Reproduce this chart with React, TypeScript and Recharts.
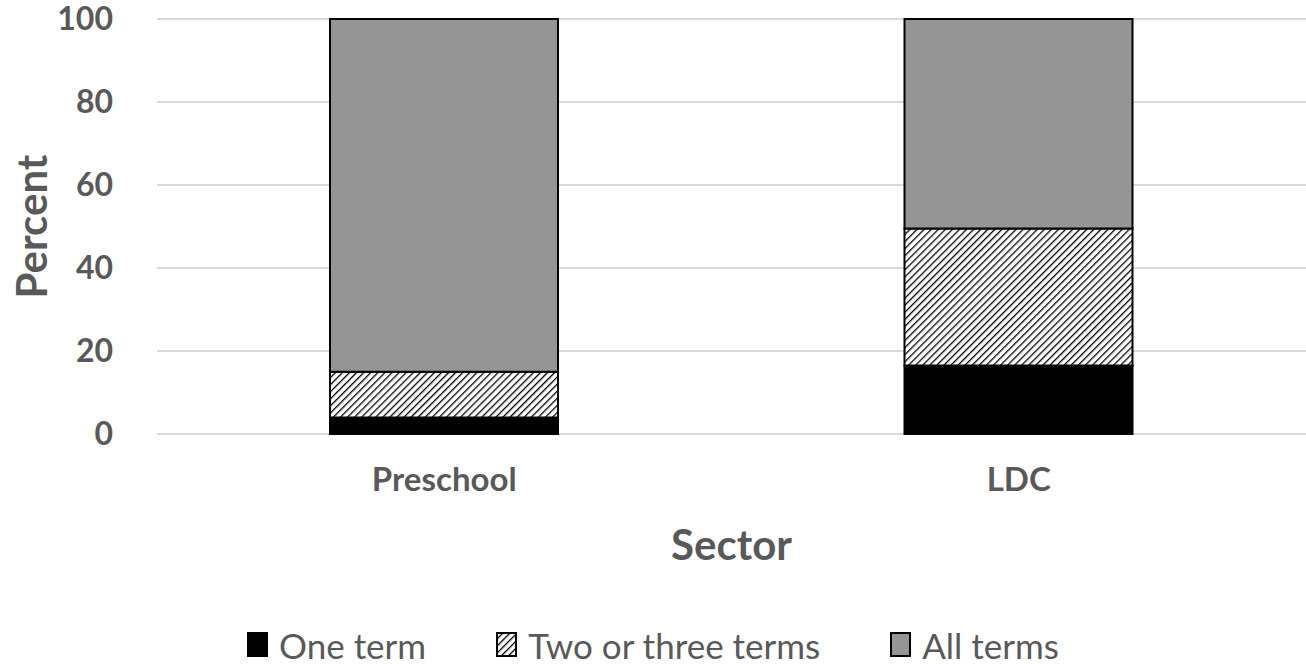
import React from "react";
import { BarChart, Bar, XAxis, YAxis, CartesianGrid, Legend } from "recharts";

const categories = ["Preschool", "LDC"];
const oneTerm = [4, 16.5];
const twoOrThreeTerms = [11, 33];
const allTerms = [85, 50.5];
const yTicks = [0, 20, 40, 60, 80, 100];

const seriesInfo = [
  { key: "one", name: "One term", fill: "#000000" },
  { key: "two", name: "Two or three terms", fill: "url(#hatch)" },
  { key: "all", name: "All terms", fill: "#959595" },
];

const data = categories.map((name, i) => ({
  name,
  one: oneTerm[i],
  two: twoOrThreeTerms[i],
  all: allTerms[i],
}));

const FONT = "Lato, 'Noto Sans', sans-serif";
const TEXT = "#595959";

function LegendContent() {
  return (
    <div
      style={{
        display: "flex",
        justifyContent: "center",
        alignItems: "center",
        fontFamily: FONT,
        fontSize: 35,
        color: TEXT,
        paddingTop: 50,
      }}
    >
      {seriesInfo.map((s, i) => (
        <div
          key={s.key}
          style={{ display: "flex", alignItems: "center", marginRight: i < 2 ? 70 : 0 }}
        >
          <svg width={22} height={26} style={{ marginRight: 10 }}>
            <rect x={1} y={1} width={19} height={23} fill={s.fill} stroke="#000" strokeWidth={2} />
          </svg>
          <span>{s.name}</span>
        </div>
      ))}
    </div>
  );
}

export default function App() {
  return (
    <div style={{ position: "absolute", left: 0, top: 0, width: 1306, height: 664, background: "#fff" }}>
      <svg width={0} height={0} style={{ position: "absolute" }}>
        <defs>
          <pattern id="hatch" patternUnits="userSpaceOnUse" width={5} height={5} patternTransform="rotate(45)">
            <rect width={5} height={5} fill="#fff" />
            <line x1={0} y1={0} x2={0} y2={5} stroke="#000" strokeWidth={2.6} />
          </pattern>
        </defs>
      </svg>
      <BarChart
        width={1306}
        height={664}
        data={data}
        margin={{ top: 19, right: 0, left: 0, bottom: 0 }}
        barSize={228}
      >
        <CartesianGrid vertical={false} stroke="#d9d9d9" strokeWidth={2} />
        <XAxis
          dataKey="name"
          axisLine={false}
          tickLine={false}
          height={140}
          tick={{ fill: TEXT, fontSize: 33, fontWeight: 700, fontFamily: FONT }}
          tickMargin={28}
          label={{
            value: "Sector",
            position: "insideBottom",
            offset: 14,
            fill: TEXT,
            fontSize: 42,
            fontWeight: 700,
            fontFamily: FONT,
          }}
        />
        <YAxis
          domain={[0, 100]}
          ticks={yTicks}
          width={157}
          axisLine={false}
          tickLine={false}
          tickMargin={38}
          tick={{ fill: TEXT, fontSize: 32, fontWeight: 700, fontFamily: FONT }}
          label={{
            value: "Percent",
            angle: -90,
            position: "insideLeft",
            offset: 32,
            fill: TEXT,
            fontSize: 42,
            fontWeight: 700,
            fontFamily: FONT,
            style: { textAnchor: "middle" },
          }}
        />
        <Legend verticalAlign="bottom" height={90} content={<LegendContent />} />
        {seriesInfo.map((s) => (
          <Bar
            key={s.key}
            dataKey={s.key}
            name={s.name}
            stackId="a"
            fill={s.fill}
            stroke="#000"
            strokeWidth={2}
            isAnimationActive={false}
          />
        ))}
      </BarChart>
    </div>
  );
}
